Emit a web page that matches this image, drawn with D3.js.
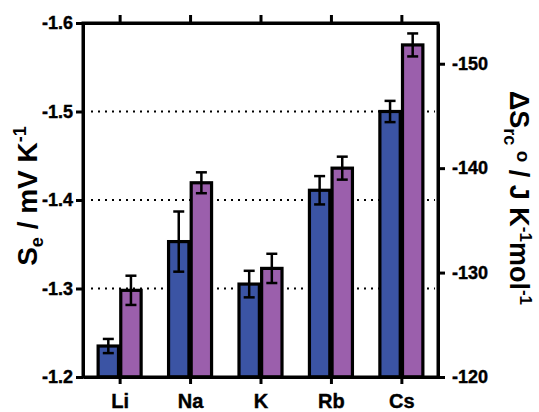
<!DOCTYPE html>
<html>
<head>
<meta charset="utf-8">
<script src="https://cdn.jsdelivr.net/npm/d3@7/dist/d3.min.js"></script>
<style>
  body { margin: 0; background: #fff; }
  svg { display: block; font-family: "Liberation Sans", Arial, sans-serif; font-weight: bold; }
</style>
</head>
<body>
<svg id="chart"></svg>
<script>
// categories
var ions = ['Li', 'Na', 'K', 'Rb', 'Cs'];
// Se (mV K-1), left axis
var seValues = [-1.235, -1.353, -1.305, -1.411, -1.500];
var seErrors = [0.008, 0.034, 0.015, 0.016, 0.012];
// dSrc (J K-1 mol-1), right axis
var dsValues = [-128.3, -138.6, -130.4, -140.0, -151.8];
var dsErrors = [1.4, 1.0, 1.4, 1.1, 1.1];
// tick labels
var leftTicks = [-1.2, -1.3, -1.4, -1.5, -1.6];
var rightTicks = [-120, -130, -140, -150];
var gridTicks = [-1.3, -1.4, -1.5];

(function() {
  var width = 539;
  var height = 412;
  // plot box
  var box = { left: 83, right: 438, top: 23, bottom: 377 };

  var svg = d3.select('#chart')
    .attr('width', width)
    .attr('height', height);

  var x = d3.scalePoint()
    .domain(ions)
    .range([box.left, box.right])
    .padding(0.52);

  var x1 = d3.scaleBand()
    .domain(['se', 'ds'])
    .range([-21.5, 21.5])
    .paddingInner(0.1);

  var yLeft = d3.scaleLinear()
    .domain([-1.2, -1.6])
    .range([box.bottom, box.top]);

  var yRight = d3.scaleLinear()
    .domain([-120, -153.9])
    .range([box.bottom, box.top]);

  var series = [
    { key: 'se', values: seValues, errors: seErrors, y: yLeft, color: '#3b54a4' },
    { key: 'ds', values: dsValues, errors: dsErrors, y: yRight, color: '#9b5fac' }
  ];

  // dotted grid
  svg.append('g')
    .selectAll('line')
    .data(gridTicks)
    .enter()
    .append('line')
    .attr('x1', box.left + 8)
    .attr('x2', box.right - 3)
    .attr('y1', function(d) { return yLeft(d); })
    .attr('y2', function(d) { return yLeft(d); })
    .attr('stroke', '#000')
    .attr('stroke-width', 2.2)
    .attr('stroke-dasharray', '2,5');

  // bars
  series.forEach(function(s) {
    var g = svg.append('g');
    g.selectAll('rect')
      .data(ions)
      .enter()
      .append('rect')
      .attr('x', function(d) { return x(d) + x1(s.key); })
      .attr('width', x1.bandwidth())
      .attr('y', function(d, i) { return s.y(s.values[i]); })
      .attr('height', function(d, i) { return box.bottom - s.y(s.values[i]); })
      .attr('fill', s.color)
      .attr('stroke', '#000')
      .attr('stroke-width', 3.2);
  });

  // error bars
  series.forEach(function(s) {
    var g = svg.append('g')
      .attr('stroke', '#000')
      .attr('stroke-width', 2.5);
    ions.forEach(function(d, i) {
      var cx = x(d) + x1(s.key) + x1.bandwidth() / 2;
      var top = s.y(s.values[i] - s.errors[i]);
      var bot = s.y(s.values[i] + s.errors[i]);
      g.append('line').attr('x1', cx).attr('x2', cx).attr('y1', top).attr('y2', bot);
      g.append('line').attr('x1', cx - 5.5).attr('x2', cx + 5.5).attr('y1', top).attr('y2', top);
      g.append('line').attr('x1', cx - 5.5).attr('x2', cx + 5.5).attr('y1', bot).attr('y2', bot);
    });
  });

  // axes
  function style(g, size) {
    g.attr('font-family', null).attr('font-size', null);
    g.selectAll('path, line').attr('stroke', '#000').attr('stroke-width', 3);
    g.selectAll('text')
      .attr('fill', '#000')
      .attr('stroke', '#000')
      .attr('stroke-width', 0.4)
      .style('font-size', size + 'px')
      .style('font-weight', 'bold')
      .style('font-family', '"Liberation Sans", Arial, sans-serif');
  }

  svg.append('g')
    .attr('transform', 'translate(' + box.left + ',0)')
    .call(d3.axisLeft(yLeft).tickValues(leftTicks).tickSize(7).tickSizeOuter(0).tickPadding(3)
      .tickFormat(function(d) { return d.toFixed(1); }))
    .call(style, 18);

  svg.append('g')
    .attr('transform', 'translate(' + box.right + ',0)')
    .call(d3.axisRight(yRight).tickValues(rightTicks).tickSize(7).tickSizeOuter(0).tickPadding(7)
      .tickFormat(function(d) { return String(d); }))
    .call(style, 18);

  svg.append('g')
    .attr('transform', 'translate(0,' + box.bottom + ')')
    .call(d3.axisBottom(x).tickSize(7).tickSizeOuter(0).tickPadding(10))
    .call(style, 20);

  svg.append('g')
    .attr('transform', 'translate(0,' + box.top + ')')
    .call(d3.axisTop(x).tickSize(8).tickSizeOuter(0).tickFormat(''))
    .call(style, 20);

  // square off the frame corners
  svg.append('rect')
    .attr('x', box.left)
    .attr('y', box.top)
    .attr('width', box.right - box.left)
    .attr('height', box.bottom - box.top)
    .attr('fill', 'none')
    .attr('stroke', '#000')
    .attr('stroke-width', 3);

  // left title
  var tl = svg.append('text')
    .attr('transform', 'translate(37,' + 196 + ') rotate(-90)')
    .attr('text-anchor', 'middle')
    .style('font-size', '28px');
  tl.append('tspan').text('S');
  tl.append('tspan').attr('dy', 6).style('font-size', '18px').text('e');
  tl.append('tspan').attr('dy', -6).text(' / mV K');
  tl.append('tspan').attr('dy', -11).style('font-size', '18px').text('-1');

  // right title
  var tr = svg.append('text')
    .attr('transform', 'translate(510,' + 198 + ') rotate(90)')
    .attr('text-anchor', 'middle')
    .style('font-size', '27px');
  tr.append('tspan').text('ΔS');
  tr.append('tspan').attr('dy', 6).style('font-size', '18px').text('rc');
  tr.append('tspan').attr('dy', -13).style('font-size', '19px').text(' o');
  tr.append('tspan').attr('dy', 7).text(' / J K');
  tr.append('tspan').attr('dy', -10).style('font-size', '17px').text('-1');
  tr.append('tspan').attr('dy', 10).text('mol');
  tr.append('tspan').attr('dy', -10).style('font-size', '17px').text('-1');
}());
</script>
</body>
</html>
